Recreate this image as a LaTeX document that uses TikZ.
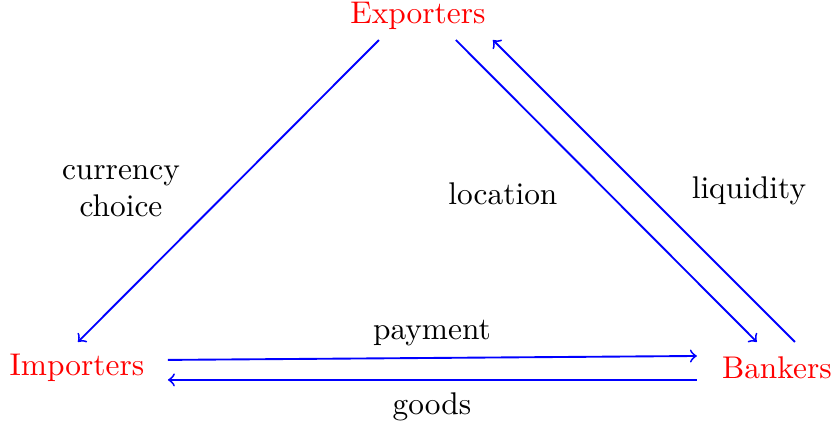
\documentclass[tikz,border=0pt]{standalone}
\tikzstyle{aS}=[text=red,inner sep = 3.33pt, font=\normalsize]
\tikzstyle{lS}=[inner sep = 2pt, font=\normalsize,align=center]
\tikzstyle{eS}=[semithick,draw=blue,->]

\begin{document}
\begin{tikzpicture}[scale=1]%[x=1 cm, y=1 cm]
                \useasboundingbox (0,0) rectangle (9.33,-4.78);
                \draw (4.681,-0.182) node[aS] (exp) {Exporters};
                \draw (0.862,-4.124) node[aS] (imp) {Importers};
                \draw (8.701,-4.124) node[aS] (bank) {Bankers};
                \draw (1.355,-2.141) node[lS] (lcur) {currency\\choice};
                \draw (5.633,-2.165) node[lS] (lloc) {location};
                \draw (8.388,-2.141) node[lS] (lliq) {liquidity};
                \draw (4.838,-3.732) node[lS] (lpay) {payment};
                \draw (4.838,-4.555) node[lS] (lgood) {goods};
                \path
                    ([shift={(-0.437,-0.266)}]exp.center) edge[eS] ([shift={(0.011,0.294)}]imp.center)
                    ([shift={(0.425,-0.266)}]exp.center) edge[eS] ([shift={(-0.224,0.294)}]bank.center)
                    ([shift={(0.202,0.294)}]bank.center) edge[eS] ([shift={(0.840,-0.266)}]exp.center)
                    ([shift={(1.019,0.093)}]imp.center) edge[eS] ([shift={(-0.896,0.137)}]bank.center)
                    ([shift={(-0.896,-0.131)}]bank.center) edge[eS] ([shift={(1.019,-0.131)}]imp.center)
                ;
        \end{tikzpicture}
\end{document}
